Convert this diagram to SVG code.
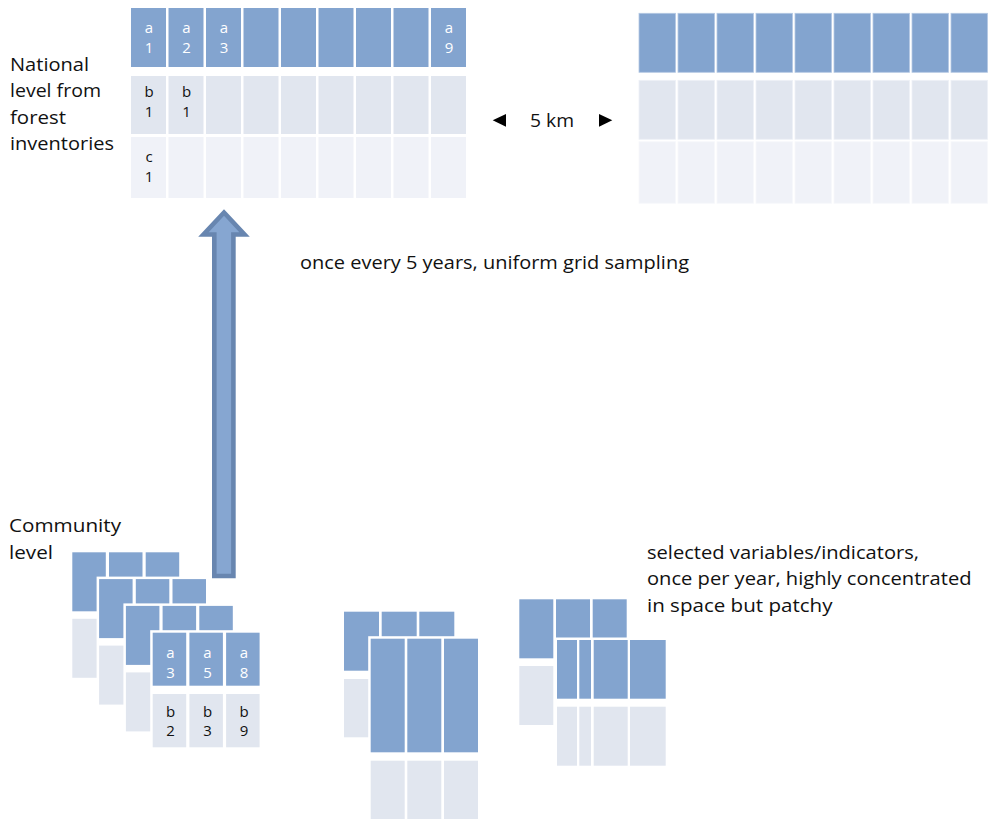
<svg xmlns="http://www.w3.org/2000/svg" width="988" height="819" viewBox="0 0 988 819">
<style>
.b{fill:#83a4cf}
.l{fill:#e1e6ef}
.ll{fill:#f0f2f8}
.w{fill:#ffffff}
.rb{fill:#83a4cf;stroke:#b4c8e3;stroke-width:0.8}
.rl{fill:#e1e6ef;stroke:#eef1f7;stroke-width:0.8}
.rll{fill:#f0f2f8;stroke:#f7f8fb;stroke-width:0.8}
text{font-family:"Open Sans","Noto Sans","Liberation Sans",sans-serif}
.lbl{font-size:18px;fill:#111111}
.cw{font-size:15px;fill:#ffffff;text-anchor:middle}
.ck{font-size:15px;fill:#111111;text-anchor:middle}
</style>

<g id="national-grid">
  <rect class="b" x="131" y="8" width="35" height="59"/>
  <rect class="b" x="168.5" y="8" width="35" height="59"/>
  <rect class="b" x="206" y="8" width="35" height="59"/>
  <rect class="b" x="243.5" y="8" width="35" height="59"/>
  <rect class="b" x="281" y="8" width="35" height="59"/>
  <rect class="b" x="318.5" y="8" width="35" height="59"/>
  <rect class="b" x="356" y="8" width="35" height="59"/>
  <rect class="b" x="393.5" y="8" width="35" height="59"/>
  <rect class="b" x="431" y="8" width="35" height="59"/>
  <rect class="l" x="131" y="76" width="35" height="58"/>
  <rect class="l" x="168.5" y="76" width="35" height="58"/>
  <rect class="l" x="206" y="76" width="35" height="58"/>
  <rect class="l" x="243.5" y="76" width="35" height="58"/>
  <rect class="l" x="281" y="76" width="35" height="58"/>
  <rect class="l" x="318.5" y="76" width="35" height="58"/>
  <rect class="l" x="356" y="76" width="35" height="58"/>
  <rect class="l" x="393.5" y="76" width="35" height="58"/>
  <rect class="l" x="431" y="76" width="35" height="58"/>
  <rect class="ll" x="131" y="137" width="35" height="61"/>
  <rect class="ll" x="168.5" y="137" width="35" height="61"/>
  <rect class="ll" x="206" y="137" width="35" height="61"/>
  <rect class="ll" x="243.5" y="137" width="35" height="61"/>
  <rect class="ll" x="281" y="137" width="35" height="61"/>
  <rect class="ll" x="318.5" y="137" width="35" height="61"/>
  <rect class="ll" x="356" y="137" width="35" height="61"/>
  <rect class="ll" x="393.5" y="137" width="35" height="61"/>
  <rect class="ll" x="431" y="137" width="35" height="61"/>
  <text class="cw" x="149" y="33">a</text><text class="cw" x="149" y="52.5">1</text>
  <text class="cw" x="186.5" y="33">a</text><text class="cw" x="186.5" y="52.5">2</text>
  <text class="cw" x="224" y="33">a</text><text class="cw" x="224" y="52.5">3</text>
  <text class="cw" x="449" y="33">a</text><text class="cw" x="449" y="52.5">9</text>
  <text class="ck" x="149" y="97">b</text><text class="ck" x="149" y="116.5">1</text>
  <text class="ck" x="186.5" y="97">b</text><text class="ck" x="186.5" y="116.5">1</text>
  <text class="ck" x="149" y="162">c</text><text class="ck" x="149" y="181.5">1</text>
</g>

<g id="national-label">
  <text class="lbl" x="10" y="70.5" textLength="79" lengthAdjust="spacingAndGlyphs">National</text>
  <text class="lbl" x="10" y="97" textLength="91" lengthAdjust="spacingAndGlyphs">level from</text>
  <text class="lbl" x="10" y="123.5" textLength="56" lengthAdjust="spacingAndGlyphs">forest</text>
  <text class="lbl" x="10" y="150" textLength="104" lengthAdjust="spacingAndGlyphs">inventories</text>
</g>

<g id="neighbour-grid">
  <rect class="rb" x="639" y="13.3" width="36.5" height="59"/>
  <rect class="rb" x="678" y="13.3" width="36.5" height="59"/>
  <rect class="rb" x="717" y="13.3" width="36.5" height="59"/>
  <rect class="rb" x="756" y="13.3" width="36.5" height="59"/>
  <rect class="rb" x="795" y="13.3" width="36.5" height="59"/>
  <rect class="rb" x="834" y="13.3" width="36.5" height="59"/>
  <rect class="rb" x="873" y="13.3" width="36.5" height="59"/>
  <rect class="rb" x="912" y="13.3" width="36.5" height="59"/>
  <rect class="rb" x="951" y="13.3" width="36.5" height="59"/>
  <rect class="rl" x="639" y="80.3" width="36.5" height="59"/>
  <rect class="rl" x="678" y="80.3" width="36.5" height="59"/>
  <rect class="rl" x="717" y="80.3" width="36.5" height="59"/>
  <rect class="rl" x="756" y="80.3" width="36.5" height="59"/>
  <rect class="rl" x="795" y="80.3" width="36.5" height="59"/>
  <rect class="rl" x="834" y="80.3" width="36.5" height="59"/>
  <rect class="rl" x="873" y="80.3" width="36.5" height="59"/>
  <rect class="rl" x="912" y="80.3" width="36.5" height="59"/>
  <rect class="rl" x="951" y="80.3" width="36.5" height="59"/>
  <rect class="rll" x="639" y="141.7" width="36.5" height="61.6"/>
  <rect class="rll" x="678" y="141.7" width="36.5" height="61.6"/>
  <rect class="rll" x="717" y="141.7" width="36.5" height="61.6"/>
  <rect class="rll" x="756" y="141.7" width="36.5" height="61.6"/>
  <rect class="rll" x="795" y="141.7" width="36.5" height="61.6"/>
  <rect class="rll" x="834" y="141.7" width="36.5" height="61.6"/>
  <rect class="rll" x="873" y="141.7" width="36.5" height="61.6"/>
  <rect class="rll" x="912" y="141.7" width="36.5" height="61.6"/>
  <rect class="rll" x="951" y="141.7" width="36.5" height="61.6"/>
</g>

<g id="scale-label">
  <text class="lbl" x="530" y="126.5" textLength="44" lengthAdjust="spacingAndGlyphs">5 km</text>
</g>

<g id="sampling-label">
  <text class="lbl" x="300" y="268.5" textLength="389" lengthAdjust="spacingAndGlyphs">once every 5 years, uniform grid sampling</text>
</g>

<g id="community-label">
  <text class="lbl" x="9" y="531.5" textLength="112" lengthAdjust="spacingAndGlyphs">Community</text>
  <text class="lbl" x="9" y="558.5" textLength="44" lengthAdjust="spacingAndGlyphs">level</text>
</g>

<g id="community-stacks">
  <g id="stack1">
    <rect class="b" x="72.3" y="552.3" width="33.5" height="59"/>
    <rect class="b" x="109" y="552.3" width="33.5" height="59"/>
    <rect class="b" x="145.7" y="552.3" width="33.5" height="59"/>
    <rect class="l" x="72.3" y="618.8" width="33.5" height="59"/>
  </g>
  <g id="stack2">
    <rect class="w" x="96.6" y="576.6" width="112" height="130"/>
    <rect class="b" x="99.1" y="579.1" width="33.5" height="59"/>
    <rect class="b" x="135.8" y="579.1" width="33.5" height="59"/>
    <rect class="b" x="172.5" y="579.1" width="33.5" height="59"/>
    <rect class="l" x="99.1" y="645.6" width="33.5" height="59"/>
  </g>
  <g id="stack3">
    <rect class="w" x="123.4" y="603.4" width="112" height="130"/>
    <rect class="b" x="125.9" y="605.9" width="33.5" height="59"/>
    <rect class="b" x="162.6" y="605.9" width="33.5" height="59"/>
    <rect class="b" x="199.3" y="605.9" width="33.5" height="59"/>
    <rect class="l" x="125.9" y="672.4" width="33.5" height="59"/>
  </g>
  <g id="stack4">
    <rect class="w" x="150.2" y="630.2" width="112" height="120"/>
    <rect class="b" x="152.7" y="632.7" width="33.5" height="53"/>
    <rect class="b" x="189.4" y="632.7" width="33.5" height="53"/>
    <rect class="b" x="226.1" y="632.7" width="33.5" height="53"/>
    <rect class="l" x="152.7" y="694" width="33.5" height="53.3"/>
    <rect class="l" x="189.4" y="694" width="33.5" height="53.3"/>
    <rect class="l" x="226.1" y="694" width="33.5" height="53.3"/>
    <text class="cw" x="170.5" y="658">a</text><text class="cw" x="170.5" y="677.5">3</text>
    <text class="cw" x="207.5" y="658">a</text><text class="cw" x="207.5" y="677.5">5</text>
    <text class="cw" x="244" y="658">a</text><text class="cw" x="244" y="677.5">8</text>
    <text class="ck" x="170.5" y="716.5">b</text><text class="ck" x="170.5" y="736">2</text>
    <text class="ck" x="207.5" y="716.5">b</text><text class="ck" x="207.5" y="736">3</text>
    <text class="ck" x="244" y="716.5">b</text><text class="ck" x="244" y="736">9</text>
  </g>
</g>

<g id="middle-stacks">
  <rect class="b" x="344" y="611.7" width="35" height="59"/>
  <rect class="b" x="381.7" y="611.7" width="35" height="59"/>
  <rect class="b" x="419.3" y="611.7" width="35" height="59"/>
  <rect class="l" x="344" y="679" width="35" height="58.3"/>
  <rect class="w" x="368.2" y="636.2" width="112" height="190"/>
  <rect class="b" x="370.7" y="638.7" width="34" height="113.6"/>
  <rect class="b" x="407.3" y="638.7" width="34" height="113.6"/>
  <rect class="b" x="444" y="638.7" width="34" height="113.6"/>
  <rect class="l" x="370.7" y="760.7" width="34" height="60"/>
  <rect class="l" x="407.3" y="760.7" width="34" height="60"/>
  <rect class="l" x="444" y="760.7" width="34" height="60"/>
</g>

<g id="patchy-stacks">
  <rect class="b" x="519.3" y="599.3" width="34" height="59"/>
  <rect class="b" x="556" y="599.3" width="34" height="59"/>
  <rect class="b" x="592.7" y="599.3" width="34" height="59"/>
  <rect class="l" x="519.3" y="666" width="34" height="59"/>
  <rect class="w" x="554.5" y="637.5" width="114" height="132"/>
  <rect class="b" x="557" y="640" width="20" height="58.7"/>
  <rect class="b" x="579.3" y="640" width="11.7" height="58.7"/>
  <rect class="b" x="593.7" y="640" width="34" height="58.7"/>
  <rect class="b" x="630" y="640" width="35.7" height="58.7"/>
  <rect class="l" x="557" y="706.7" width="20" height="59"/>
  <rect class="l" x="579.3" y="706.7" width="11.7" height="59"/>
  <rect class="l" x="593.7" y="706.7" width="34" height="59"/>
  <rect class="l" x="630" y="706.7" width="35.7" height="59"/>
</g>

<g id="patchy-label">
  <text class="lbl" x="647" y="558.5" textLength="272" lengthAdjust="spacingAndGlyphs">selected variables/indicators,</text>
  <text class="lbl" x="647" y="585.3" textLength="324.5" lengthAdjust="spacingAndGlyphs">once per year, highly concentrated</text>
  <text class="lbl" x="647" y="612" textLength="185.5" lengthAdjust="spacingAndGlyphs">in space but patchy</text>
</g>

<g id="connectors">
  <polygon points="224,212.5 244.5,234.5 233.4,234.5 233.4,576 214.3,576 214.3,234.5 203.5,234.5" fill="#86a6d1" stroke="#6886b0" stroke-width="4.6" stroke-linejoin="miter"/>
  <polygon points="492.7,120.3 506,114 506,126.7" fill="#000000"/>
  <polygon points="612.3,120.3 599,114 599,126.7" fill="#000000"/>
</g>
</svg>
